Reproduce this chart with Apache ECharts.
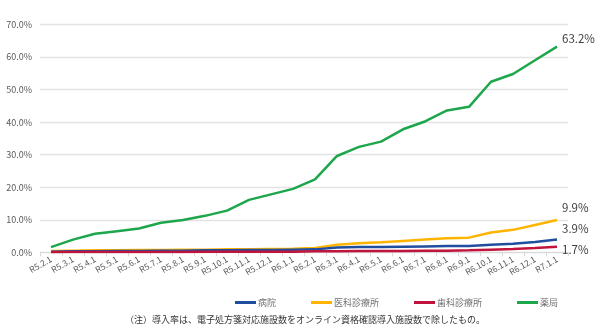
<!DOCTYPE html>
<html>
<head>
<meta charset="utf-8">
<script src="https://cdn.jsdelivr.net/npm/echarts@6/dist/echarts.min.js"></script>
<style>
  html, body { margin: 0; padding: 0; background: #fff; }
  #chart { width: 600px; height: 333px; }
</style>
</head>
<body>
<div id="chart"></div>
<script>
// Monthly adoption rate of e-prescriptions by facility type (%)
const months = [
  'R5.2.1','R5.3.1','R5.4.1','R5.5.1','R5.6.1','R5.7.1','R5.8.1','R5.9.1',
  'R5.10.1','R5.11.1','R5.12.1','R6.1.1','R6.2.1','R6.3.1','R6.4.1','R6.5.1',
  'R6.6.1','R6.7.1','R6.8.1','R6.9.1','R6.10.1','R6.11.1','R6.12.1','R7.1.1'
];
const hospital = [0.2,0.3,0.3,0.4,0.4,0.5,0.5,0.6,0.6,0.7,0.7,0.8,0.9,1.5,1.6,1.6,1.7,1.8,1.9,1.9,2.3,2.6,3.2,3.9];
const medicalClinic = [0.4,0.5,0.6,0.6,0.7,0.7,0.8,0.8,0.9,0.9,1.0,1.1,1.3,2.3,2.8,3.1,3.5,3.9,4.3,4.5,6.1,6.9,8.4,9.9];
const dentalClinic = [0.0,0.1,0.1,0.1,0.1,0.1,0.1,0.2,0.2,0.2,0.2,0.2,0.3,0.3,0.4,0.4,0.4,0.5,0.5,0.6,0.8,1.0,1.3,1.7];
const pharmacy = [1.6,3.9,5.7,6.5,7.3,9.1,9.9,11.2,12.8,16.1,17.8,19.5,22.4,29.6,32.4,34.0,37.8,40.2,43.6,44.7,52.4,54.8,59.0,63.2];
const yTicks = [0, 10, 20, 30, 40, 50, 60, 70];

const FONT = '"Noto Sans CJK JP", "Noto Sans", sans-serif';

function lineSeries(name, values, color, dy, z) {
  return {
    name: name, type: 'line', data: values,
    symbol: 'none', z: z,
    lineStyle: { color: color, width: 2.5 },
    itemStyle: { color: color },
    // Final-month value written just right of the line end
    endLabel: {
      show: true, distance: 5, offset: [0, dy],
      formatter: p => Number(p.value).toFixed(1) + '%',
      color: '#404040', fontSize: 11.5, fontFamily: FONT
    },
    emphasis: { disabled: true }
  };
}

const chart = echarts.init(document.getElementById('chart'));
chart.setOption({
  animation: false,
  textStyle: { fontFamily: FONT },
  grid: { left: 40, right: 32, top: 24.5, bottom: 80.7 },
  xAxis: {
    type: 'category', data: months, boundaryGap: true,
    axisLine: { lineStyle: { color: '#d9d9d9', width: 1 } },
    axisTick: { show: true, length: 4, lineStyle: { color: '#d9d9d9' } },
    axisLabel: { rotate: 30, interval: 0, fontSize: 8.5, color: '#595959', margin: 6, fontFamily: FONT }
  },
  yAxis: {
    type: 'value', min: yTicks[0], max: yTicks[yTicks.length - 1], interval: 10,
    axisLine: { show: false }, axisTick: { show: false },
    axisLabel: { formatter: v => v.toFixed(1) + '%', fontSize: 9, color: '#595959', margin: 8, fontFamily: FONT },
    splitLine: { lineStyle: { color: '#e3e3e3', width: 1.3 } }
  },
  legend: {
    left: 230, top: 293, itemWidth: 21, itemHeight: 3, itemGap: 35,
    icon: 'rect',
    textStyle: { fontSize: 9, color: '#6e6e6e', padding: [0, 0, 0, -3], fontFamily: FONT },
    data: ['病院', '医科診療所', '歯科診療所', '薬局']
  },
  graphic: [{
    type: 'text', left: 125, top: 315,
    style: { text: '（注）導入率は、電子処方箋対応施設数をオンライン資格確認導入施設数で除したもの。',
      fontSize: 9, fill: '#333', fontFamily: FONT }
  }],
  series: [
    lineSeries('病院', hospital, '#1F4E9F', -11, 3),
    lineSeries('医科診療所', medicalClinic, '#FFB400', -12, 2),
    lineSeries('歯科診療所', dentalClinic, '#C0143C', 3, 4),
    lineSeries('薬局', pharmacy, '#1DA64B', -8, 5)
  ]
});
</script>
</body>
</html>
